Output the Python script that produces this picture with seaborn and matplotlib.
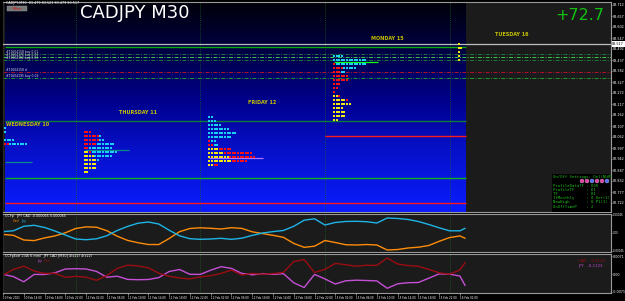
import numpy as np
import pandas as pd
import seaborn as sns
import matplotlib.pyplot as plt
import matplotlib.transforms as mtransforms
from matplotlib.colors import LinearSegmentedColormap
from matplotlib.patches import Rectangle, Ellipse

# time axis: hours since 10 Feb 00:00 (weekend removed, M30 bars)
hours = [10, 12, 14, 16, 18, 20, 22, 24, 26, 28, 30, 32, 34, 36, 38, 40, 42, 44, 46, 48,
         50, 52, 54, 56, 58, 60, 62, 64, 66, 68, 70, 72, 74, 76, 78, 80, 82, 84, 86, 88,
         90, 92, 94, 96, 98, 99]

# CCFp panel (x 1e-5)
ccf_cad = [-3.5, -5.8, -17.5, -19, -12.3, -7.3, 0.5, 11.3, 15.3, 14.5,
           5.8, -8, -18.5, -24.3, -28.8, -28.8, -13.8, 3.3, 11.3, 13,
           11.8, 10, 13.3, 11.5, 3, -1.5, -5.8, -10.8, -26, -35.8,
           -33, -18.8, -23.8, -29.3, -30, -28.8, -30, -42.5, -41.3, -37.5,
           -35.5, -31.3, -20.8, -11.5, -7.3, -13.3]
ccf_jpy = [3.5, 5.5, 16.8, 19.3, 13.8, 5, -5, -15, -16.8, -14.5,
           -6.8, 6.3, 16.5, 24.5, 27.5, 22.5, 7, -7, -14.3, -15.8,
           -15, -13.3, -15.8, -13, -6, 0, 3.5, 6.3, 16.8, 32,
           35.5, 20, 26.3, 28.8, 29.3, 28.3, 25, 37.5, 36.3, 33.8,
           28.8, 21.3, 13, 5.5, 5.5, 11.8]

# CCFpExtf panel (x 1e-4)
ext_jpy = [-1.2, -10.4, -31.2, -1.6, -2, 4.8, 20, 21.2, 20, 10.4,
           -12.8, -8.8, -21.6, -22.8, -22, -14.4, 10, 18, -1.2, -1.6,
           15.2, 29.2, 22.4, 2.4, -3.2, 1.6, -1.6, 1.6, -35.2, -54,
           -1.6, -19.6, -40, -27.2, -24.8, -26, -27.6, -57.2, -39.2, -34.8,
           -34, -16.8, 0.4, -0.8, -8, -46]
ext_cad = [-4.8, 18.4, 31.2, 12, 2.4, 2.8, -13.2, -9.2, -12.8, -25.2,
           -6, 22.4, 35.2, 32.4, 24.8, 3.2, -9.2, -16, -19.6, -11.6,
           -6.8, 2.4, 15.6, -4, 2.4, -0.8, 1.6, 6.4, 50, 58,
           6, 18.8, 42.4, 37.2, 31.2, 34.8, 34.4, 64, 40, 34,
           30.8, 18.4, 4.8, -0.8, 16, 46]

# days / market profile
day_names = ['WEDNESDAY 10', 'THURSDAY 11', 'FRIDAY 12', 'MONDAY 15', 'TUESDAY 16']
day_dates = ['10 Feb', '11 Feb', '12 Feb', '15 Feb', '16 Feb']
day_start = [0, 24, 48, 72, 96]
day_label_hour = [10.5, 36, 60, 84, 108]
day_label_price = [83.117, 83.172, 83.222, 83.542, 83.562]
profile_start = [10.4, 25.75, 49.75, 73.75, 97.75]
profile_top = [83.098, 83.079, 83.153, 83.457, 83.517]
profiles = [
    ['C', 'C', '', 'CCCC', 'RRCCCCCCC'],
    ['RRR', 'RRRRRRC', 'RRRRRRCC', 'RRRRRCCCCCCC', 'RRCCCCCCCCC', 'YYRCCCCCCCCCC',
     'YYYYCCCCCCC', 'YYYYYC', 'YYYYY', 'YYYYY', 'YY'],
    ['CC', 'CCC', 'CCCCC', 'CCCCCCCC', 'CCCCCCCCCCC', 'CCCCCCCCC', 'RCC', 'RRCC',
     'YYYYRRRRR', 'YYYYYYRRRRRRRRRRR', 'YYYYYYYYRRRRRRRRRR', 'YYYYYYYYYRRRRRR', 'YYRR'],
    ['CCCC', 'CCCCCCCCCCCCC', 'RCCCCCCCCCCCC', 'RRRRCCCCC', 'RRRCC', 'RRRRRR', 'RRRRRR',
     'RRR', 'RR', 'R', 'YYR', 'YYYYYR', 'YYYYYYY', 'YYYY', 'YYYYY', 'YYYYY', 'YY'],
    ['Y', 'YY', 'Y', 'Y', 'Y'],
]
tpo_colors = {'C': '#19d2f5', 'R': '#ff1010', 'Y': '#f5ea10'}
poc_price = [82.9285, 82.9885, 82.9455, 83.427]
poc_end = [15.5, 34.2, 60.1, 82.2]
poc_colors = ['#0b8a8a', '#0b8a8a', '#b070ff', '#10ff10']

# levels
current_price = 83.517
solid_levels = [83.502, 83.132, 83.0595, 82.847, 82.722]
solid_from = [10.37, 10.37, 72, 10.37, 10.37]
solid_colors = ['#0fa80f', '#137a3c', '#ff1a1a', '#12b012', '#ff1a1a']
order_levels = [83.467, 83.452, 83.437, 83.377, 83.347]
order_colors = ['#1a7a3a', '#3cc84a', '#1a7a3a', '#b01030', '#1f9a2f']
order_labels = ['#71604158 buy 0.01', '#71604170 buy 0.01', '#71604182 buy 0.01',
                '#71604158 sl', '#71604195 buy 0.06']

price_ticks = [83.712, 83.657, 83.602, 83.547, 83.492, 83.437, 83.382, 83.327, 83.272,
               83.217, 83.162, 83.107, 83.052, 82.997, 82.942, 82.887, 82.832, 82.777, 82.722]
time_ticks = [10, 14, 18, 22, 26, 30, 34, 38, 42, 46, 50, 54, 58, 62, 66, 70, 74, 78,
              82, 86, 90, 94, 98]

x_left, x_right, last_bar = 10.37, 127.1, 99.1
price_lo, price_hi = 82.677, 83.727

sns.set_theme(style='dark', rc={'axes.facecolor': '#1b1b1b', 'figure.facecolor': 'black'})
plt.rcParams['font.family'] = ['DejaVu Sans']

W, H = 625, 301
fig = plt.figure(figsize=(6.25, 3.01), dpi=100)


def box(x0, y0, x1, y1):
    return [x0 / W, 1 - y1 / H, (x1 - x0) / W, (y1 - y0) / H]


def ftext(x, y, s, **kw):
    fig.text(x / W, 1 - y / H, s, va='center', **kw)


ax = fig.add_axes(box(3, 2, 611, 212))
ax2 = fig.add_axes(box(3, 214, 611, 252), sharex=ax)
ax3 = fig.add_axes(box(3, 254, 611, 293), sharex=ax)

# ---- main price panel ----
blue = LinearSegmentedColormap.from_list(
    'bg', [(0, '#00000a'), (0.2, '#00003c'), (0.47, '#00008c'), (0.7, '#0610c8'), (1, '#0a1cff')])
ax.imshow(np.linspace(0, 1, 256).reshape(-1, 1), cmap=blue, aspect='auto',
          extent=[x_left, last_bar, price_lo, price_hi], origin='upper', zorder=0)

for p, c, lab in zip(order_levels, order_colors, order_labels):
    ax.axhline(p, color=c, lw=0.7, ls=(0, (4, 1.5, 1, 1.5)), zorder=2)
    ax.text(x_left + 0.2, p + 0.002, lab, fontsize=2.2, color='#e0e0e0', va='bottom', zorder=6)
for p, s, c in zip(solid_levels, solid_from, solid_colors):
    ax.hlines(p, s, last_bar, color=c, lw=1.0, zorder=2)
ax.axhline(current_price, color='#bdbdbd', lw=0.9, zorder=3)

rows = []
for start, top, prof in zip(profile_start, profile_top, profiles):
    for i, row in enumerate(prof):
        for j, code in enumerate(row):
            rows.append((start + j * 0.5, top - i * 0.02, code))
tpo = pd.DataFrame(rows, columns=['hour', 'price', 'period'])
sns.scatterplot(data=tpo, x='hour', y='price', hue='period', palette=tpo_colors,
                marker='s', s=2.0, linewidth=0, legend=False, ax=ax, zorder=4)
for p, s, e, c in zip(poc_price, profile_start, poc_end, poc_colors):
    ax.hlines(p, s, e, color=c, lw=0.9, zorder=3)

for name, hx, hp in zip(day_names, day_label_hour, day_label_price):
    ax.text(hx, hp, name, fontsize=3.5, color='#c8c400', weight='bold',
            ha='left' if hx < x_left + 1 else 'center', va='center', zorder=6)

ax.set_xlim(x_left, x_right)
ax.set_ylim(price_lo, price_hi)
ax.set_yticks(price_ticks)
ax.set_yticklabels([f'{p:.3f}' for p in price_ticks])
trans = mtransforms.blended_transform_factory(ax.transAxes, ax.transData)
ax.text(1.002, current_price, f'{current_price:.3f}', transform=trans, fontsize=2.4,
        color='black', va='center', ha='left', zorder=10,
        bbox=dict(boxstyle='square,pad=0.2', fc='white', ec='none'))

# ---- CCFp panel ----
sns.lineplot(x=hours, y=np.array(ccf_cad) * 1e-5, ax=ax2, color='#ff8c0a', linewidth=1.0)
sns.lineplot(x=hours, y=np.array(ccf_jpy) * 1e-5, ax=ax2, color='#1eb4e6', linewidth=1.0)
ax2.set_ylim(-0.000475, 0.000475)
ax2.set_yticks([0.00045, 0, -0.00045])
ax2.set_yticklabels(['0.00045', '0.00', '-0.00045'])

# ---- CCFpExtf panel ----
sns.lineplot(x=hours, y=np.array(ext_jpy) * 1e-4, ax=ax3, color='#c54fd6', linewidth=1.0)
sns.lineplot(x=hours, y=np.array(ext_cad) * 1e-4, ax=ax3, color='#9a0d12', linewidth=1.0)
ax3.set_ylim(-0.0076, 0.0080)
ax3.set_yticks([0.0071, 0, -0.0071])
ax3.set_yticklabels(['0.0071', '0.00', '-0.0071'])

tick_labels = [f'{day_dates[h // 24]} {h % 24:02d}:00' for h in time_ticks]
tick_labels[0] = '10 Feb 2021'
ax3.set_xticks(time_ticks)
ax3.set_xticklabels(tick_labels, ha='left')

for a in (ax, ax2, ax3):
    a.grid(False)
    a.set_xlabel('')
    a.set_ylabel('')
    for d in day_start[1:]:
        a.axvline(d, color='#1f5f22', lw=0.6, ls=(0, (1, 1.5)), zorder=1)
    a.tick_params(axis='y', right=True, labelright=True, left=False, labelleft=False,
                  labelsize=2.4, colors='white', length=1, width=0.4, pad=0.4)
    a.tick_params(axis='x', bottom=False, labelbottom=False)
    for s in a.spines.values():
        s.set_color('#9a9a9a')
        s.set_linewidth(0.8)
    a.spines['left'].set_color('#2a2a2a')
ax2.tick_params(axis='y', labelsize=1.9, pad=0.2)
ax3.tick_params(axis='x', bottom=True, labelbottom=True, labelsize=2.0, colors='white',
                length=1.5, width=0.4, pad=1)

# ---- overlay texts ----
ftext(6, 3, 'CADJPY,M30  83.479 83.523 83.479 83.517', fontsize=2.4, color='white')
fig.add_artist(Rectangle((7 / W, 1 - 11 / H), 20 / W, 5 / H, transform=fig.transFigure,
                         fc='#767676', ec='#a0a0a0', lw=0.3))
ftext(17, 8.5, 'Filter', fontsize=2.6, color='#e01010', ha='center')
ftext(80, 13, 'CADJPY M30', fontsize=13, color='white')
ftext(555, 15, '+72.7', fontsize=11.5, color='#12c012')

fig.add_artist(Rectangle((552 / W, 1 - 212 / H), 58 / W, 38 / H, transform=fig.transFigure,
                         fc='black', ec='none'))
ftext(553, 177, 'On/Off Settings: Del(NUM)', fontsize=2.8, color='#22c022', family='DejaVu Sans Mono')
for k, c in enumerate(['#e0409a', '#e0409a', '#5070f0', '#e0409a', '#e0409a', '#5070f0']):
    fig.add_artist(Ellipse(((582 + 5 * k) / W, 1 - 181 / H), 4 / W, 4 / H,
                           transform=fig.transFigure, fc=c, ec='#d0d0ff', lw=0.2))
info = ['ProfileDataTF : 030', 'ProfileTF     : D1', 'TF            : H1',
        'IfMonthly     : 0 Ver(1)', 'NowHigh       : 0 P1(1)', 'OnOffTimeP    : 2']
for k, line in enumerate(info):
    ftext(553, 186 + 4.1 * k, line, fontsize=2.8, color='#22c022', family='DejaVu Sans Mono')

ftext(5, 216.5, 'CCFp   JPY CAD -0.000065 0.000065', fontsize=2.4, color='white')
ftext(13, 221.3, 'Cad', fontsize=2.4, color='#ff8c0a')
ftext(21, 221.3, 'Jpy', fontsize=2.4, color='#1eb4e6')
ftext(5, 256.5, 'CCFpExtf 2(46 6 mm)  JPY CAD [M30] 4(x22) 4(x22)', fontsize=2.4, color='white')
ftext(37, 261.3, 'Jpy', fontsize=2.4, color='#c54fd6')
ftext(44, 261.3, 'Cad', fontsize=2.4, color='#9a0d12')
ftext(578, 261, 'CAD    0.1123', fontsize=2.8, color='#a01018')
ftext(578, 266.5, 'JPY   -0.1123', fontsize=2.8, color='#c54fd6')

fig.savefig('out.png', dpi=100, facecolor='black')
